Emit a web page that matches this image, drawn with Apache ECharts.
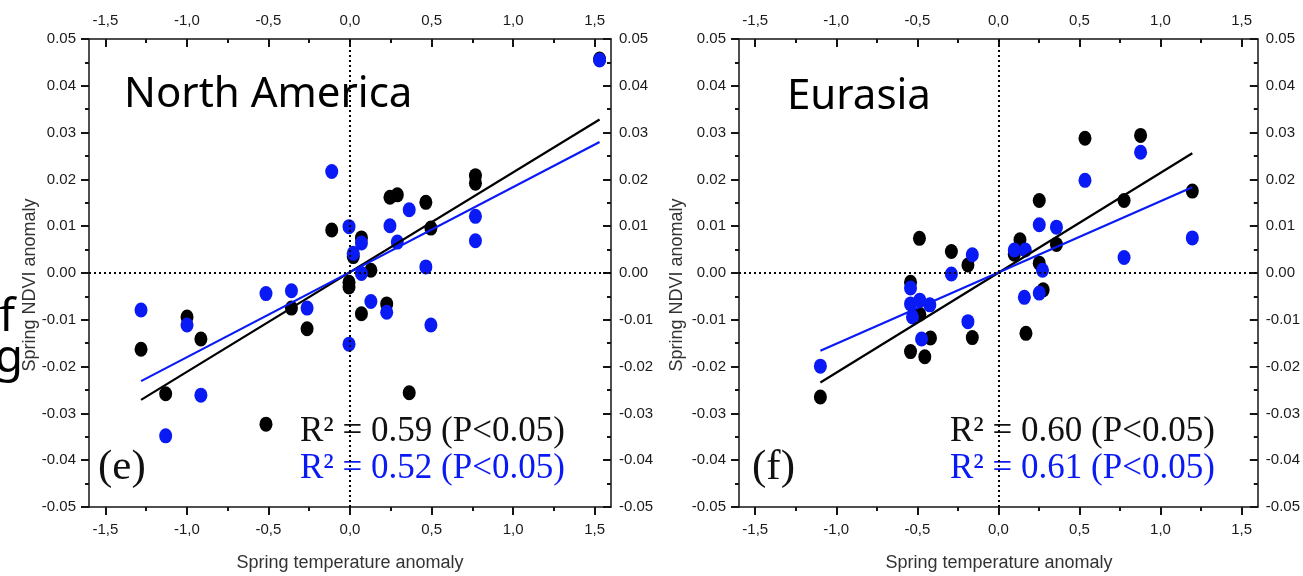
<!DOCTYPE html>
<html>
<head>
<meta charset="utf-8">
<script src="https://cdn.jsdelivr.net/npm/echarts@6/dist/echarts.min.js"></script>
<style>
  html, body { margin: 0; background: #fff; }
  #chart { width: 1303px; height: 576px; }
</style>
</head>
<body>
<div id="chart"></div>
<script>
// (e) North America - same temperature anomaly for both NDVI datasets
const naTemp = [-1.281, -1.130, -0.999, -0.914, -0.515, -0.359, -0.263, -0.112, -0.006, -0.006, 0.020, 0.070,
  0.070, 0.128, 0.225, 0.245, 0.290, 0.363, 0.465, 0.496, 0.769, 0.769, 1.530];
const naNdviBlack = [-0.0163, -0.0258, -0.0094, -0.0141, -0.0323, -0.0075, -0.0119, 0.0092, -0.0020, -0.0030, 0.0035, 0.0075,
  -0.0087, 0.0006, -0.0066, 0.0162, 0.0167, -0.0256, 0.0151, 0.0096, 0.0208, 0.0192, 0.0457];
const naNdviBlue = [-0.0079, -0.0348, -0.0111, -0.0261, -0.0044, -0.0038, -0.0075, 0.0217, 0.0099, -0.0152, 0.0042, 0.0064,
  -0.0001, -0.0061, -0.0084, 0.0101, 0.0066, 0.0135, 0.0013, -0.0111, 0.0121, 0.0069, 0.0455];
const naFitX = [-1.281, 1.530];
const naFitBlack = [-0.0271, 0.0328];
const naFitBlue = [-0.0231, 0.0280];

// (f) Eurasia
const euTempBlack = [-1.098, -0.542, -0.542, -0.487, -0.485, -0.454, -0.419, -0.290, -0.188, -0.161, 0.098, 0.133,
  0.170, 0.252, 0.252, 0.276, 0.358, 0.534, 0.775, 0.877, 1.196];
const euNdviBlack = [-0.0265, -0.0020, -0.0168, 0.0074, -0.0088, -0.0179, -0.0139, 0.0046, 0.0017, -0.0138, 0.0040, 0.0071,
  -0.0129, 0.0155, 0.0021, -0.0036, 0.0061, 0.0288, 0.0155, 0.0294, 0.0175];
const euTempBlue = [-1.098, -0.542, -0.542, -0.530, -0.485, -0.474, -0.423, -0.290, -0.188, -0.161, 0.098, 0.160,
  0.166, 0.252, 0.252, 0.272, 0.358, 0.534, 0.775, 0.877, 1.196];
const euNdviBlue = [-0.0199, -0.0032, -0.0066, -0.0094, -0.0058, -0.0141, -0.0068, -0.0002, -0.0104, 0.0039, 0.0049, -0.0052,
  0.0049, 0.0103, -0.0043, 0.0006, 0.0098, 0.0198, 0.0033, 0.0258, 0.0075];
const euFitX = [-1.098, 1.196];
const euFitBlack = [-0.0234, 0.0256];
const euFitBlue = [-0.0166, 0.0183];

const xTicks = [-1.5, -1.0, -0.5, 0, 0.5, 1.0, 1.5];
const xMinorTicks = [-1.25, -0.75, -0.25, 0.25, 0.75, 1.25];

const BLUE = '#0a1af5';
const AXIS = '#141414';
const labelFont = { color: '#1a1a1a', fontSize: 15, fontFamily: 'Liberation Sans' };

const zip = (xs, ys) => xs.map((x, i) => [x, ys[i]]);

function xAxes(g) {
  const base = {
    gridIndex: g, type: 'value', min: -1.6, max: 1.6,
    splitLine: { show: false },
    axisLine: { onZero: false, lineStyle: { color: AXIS, width: 1.5 } }
  };
  const fmt = v => v.toFixed(1).replace('.', ',');
  return [
    Object.assign({}, base, {
      position: 'bottom',
      axisTick: { customValues: xTicks, inside: false, length: 8, lineStyle: { color: AXIS, width: 2 } },
      axisLabel: Object.assign({ customValues: xTicks, formatter: fmt, margin: 15 }, labelFont)
    }),
    Object.assign({}, base, {
      position: 'top',
      axisTick: { customValues: xTicks, inside: true, length: 8, lineStyle: { color: AXIS, width: 2 } },
      axisLabel: Object.assign({ customValues: xTicks, formatter: fmt, margin: 11 }, labelFont)
    }),
    Object.assign({}, base, {
      position: 'bottom', axisLine: { show: false, onZero: false }, axisLabel: { show: false },
      axisTick: { customValues: xMinorTicks, inside: false, length: 4, lineStyle: { color: AXIS, width: 2 } }
    }),
    Object.assign({}, base, {
      position: 'top', axisLine: { show: false, onZero: false }, axisLabel: { show: false },
      axisTick: { customValues: xMinorTicks, inside: true, length: 4, lineStyle: { color: AXIS, width: 2 } }
    })
  ];
}

function yAxes(g) {
  const fmt = v => (Math.abs(v) < 1e-9 ? '0.00' : v.toFixed(2));
  const base = {
    gridIndex: g, type: 'value', min: -0.05, max: 0.05, interval: 0.01,
    splitLine: { show: false },
    axisLine: { onZero: false, lineStyle: { color: AXIS, width: 1.5 } }
  };
  return [
    Object.assign({}, base, {
      position: 'left',
      axisTick: { inside: false, length: 8, lineStyle: { color: AXIS, width: 2 } },
      minorTick: { show: true, splitNumber: 2, length: 4, lineStyle: { color: AXIS, width: 2 } },
      axisLabel: Object.assign({ formatter: fmt, margin: 13 }, labelFont)
    }),
    Object.assign({}, base, {
      position: 'right',
      axisTick: { inside: true, length: 8, lineStyle: { color: AXIS, width: 2 } },
      minorTick: { show: true, splitNumber: 2, length: 4, lineStyle: { color: AXIS, width: 2 } },
      axisLabel: Object.assign({ formatter: fmt, margin: 8 }, labelFont)
    })
  ];
}

function panel(xi, yi, blackPts, bluePts, fitX, fitBlack, fitBlue) {
  const common = { xAxisIndex: xi, yAxisIndex: yi, silent: true };
  return [
    Object.assign({
      type: 'scatter', data: blackPts, symbolSize: [13, 15],
      itemStyle: { color: '#000', opacity: 1 },
      markLine: {
        silent: true, symbol: 'none', label: { show: false },
        lineStyle: { color: '#000', type: [2, 3], width: 2 },
        data: [{ xAxis: 0 }, { yAxis: 0 }]
      }
    }, common),
    Object.assign({
      type: 'scatter', data: bluePts, symbolSize: [13, 15],
      itemStyle: { color: BLUE, opacity: 1 }
    }, common),
    Object.assign({
      type: 'line', data: zip(fitX, fitBlack), showSymbol: false,
      lineStyle: { color: '#000', width: 2.2 }
    }, common),
    Object.assign({
      type: 'line', data: zip(fitX, fitBlue), showSymbol: false,
      lineStyle: { color: BLUE, width: 2.2 }
    }, common)
  ];
}

function txt(text, x, y, font, fill, align, rotation) {
  return {
    type: 'text', x: x, y: y, rotation: rotation || 0, silent: true,
    style: { text: text, font: font, fill: fill || '#000', align: align || 'left', verticalAlign: 'middle' }
  };
}

const chart = echarts.init(document.getElementById('chart'));
chart.setOption({
  animation: false,
  backgroundColor: '#fff',
  grid: [
    { left: 89, right: 692, top: 39, bottom: 69 },
    { left: 739, right: 44, top: 39, bottom: 69 }
  ],
  xAxis: xAxes(0).concat(xAxes(1)),
  yAxis: yAxes(0).concat(yAxes(1)),
  series: panel(0, 0, zip(naTemp, naNdviBlack), zip(naTemp, naNdviBlue), naFitX, naFitBlack, naFitBlue)
    .concat(panel(4, 2, zip(euTempBlack, euNdviBlack), zip(euTempBlue, euNdviBlue), euFitX, euFitBlack, euFitBlue)),
  graphic: [
    txt('North America', 124, 95, '42px "Noto Sans"'),
    txt('Eurasia', 787, 97, '42px "Noto Sans"'),
    txt('R\u00b2 = 0.59 (P<0.05)', 300, 432, '35px "Liberation Serif"', '#111'),
    txt('R\u00b2 = 0.52 (P<0.05)', 300, 469, '35px "Liberation Serif"', BLUE),
    txt('(e)', 98, 468, '43px "Liberation Serif"', '#111'),
    txt('R\u00b2 = 0.60 (P<0.05)', 950, 432, '35px "Liberation Serif"', '#111'),
    txt('R\u00b2 = 0.61 (P<0.05)', 950, 469, '35px "Liberation Serif"', BLUE),
    txt('(f)', 752, 468, '43px "Liberation Serif"', '#111'),
    txt('Spring temperature anomaly', 350, 563, '18px "Liberation Sans"', '#333', 'center'),
    txt('Spring temperature anomaly', 999, 563, '18px "Liberation Sans"', '#333', 'center'),
    txt('Spring NDVI anomaly', 30, 285, '18px "Liberation Sans"', '#333', 'center', Math.PI / 2),
    txt('Spring NDVI anomaly', 677, 285, '18px "Liberation Sans"', '#333', 'center', Math.PI / 2),
    txt('f', 15, 318, '46px "Noto Sans"', '#000', 'right'),
    txt('g', 23, 359, '46px "Noto Sans"', '#000', 'right')
  ]
});
window.addEventListener('resize', () => chart.resize());
</script>
</body>
</html>
